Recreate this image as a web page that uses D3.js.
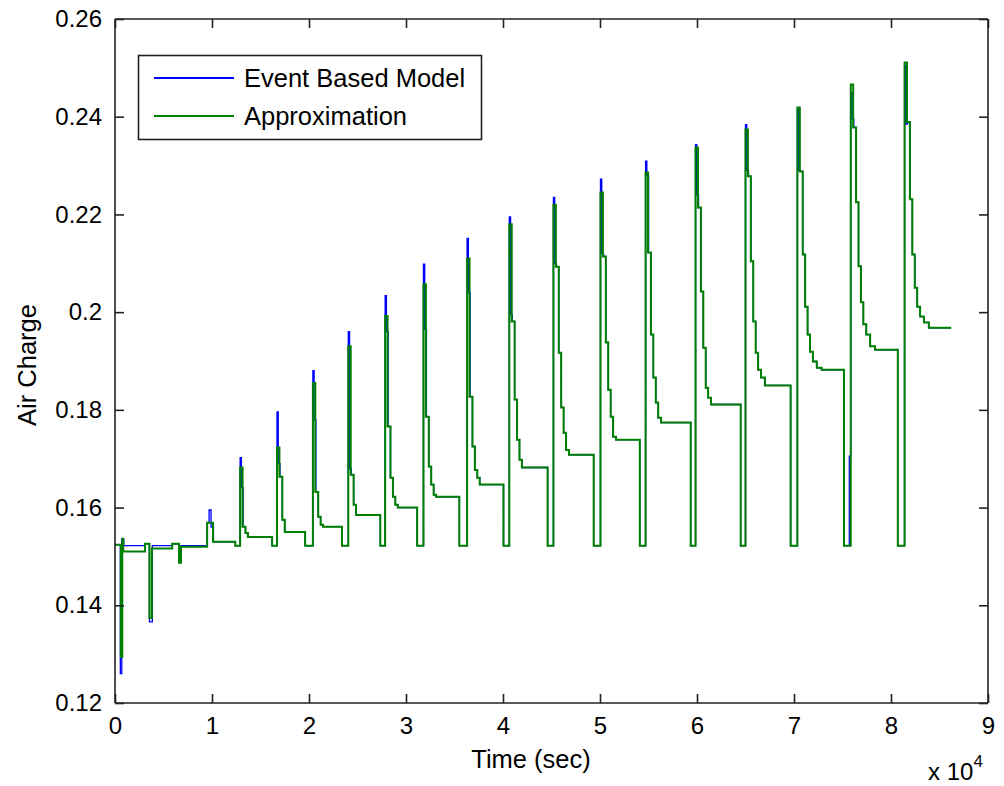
<!DOCTYPE html>
<html>
<head>
<meta charset="utf-8">
<script src="https://cdn.jsdelivr.net/npm/d3@7"></script>
<style>
  html, body { margin: 0; padding: 0; background: #fff; }
  svg { display: block; }
  text { font-family: "Liberation Sans", Arial, sans-serif; fill: #000; }
</style>
</head>
<body>
<svg id="chart" width="1004" height="786"></svg>
<script>
// ---------------- DATA ----------------
const xTickValues = [0, 10000, 20000, 30000, 40000, 50000, 60000, 70000, 80000, 90000];
const xTickLabels = ["0", "1", "2", "3", "4", "5", "6", "7", "8", "9"];
const yTickValues = [0.12, 0.14, 0.16, 0.18, 0.20, 0.22, 0.24, 0.26];
const yTickLabels = ["0.12", "0.14", "0.16", "0.18", "0.2", "0.22", "0.24", "0.26"];
const seriesNames = ["Event Based Model", "Approximation"];

const lowLevel = 0.1522;
const endTime = 86200;

// initial irregular segment (time in s, air charge)
const greenEarlyT = [0, 600, 750, 850, 3100, 3550, 3800, 5900, 6600, 6800, 9500, 10100, 12400];
const greenEarlyV = [0.1524, 0.1294, 0.1536, 0.1510, 0.1526, 0.1374, 0.1516, 0.1526, 0.1487, 0.1520, 0.1569, 0.1530, 0.1522];
const blueEarlyT = [0, 550, 700, 900, 3100, 3550, 3850, 5900, 6600, 6800, 9500, 9700, 9900, 10150, 12400];
const blueEarlyV = [0.1524, 0.1260, 0.1536, 0.1522, 0.1526, 0.1366, 0.1522, 0.1526, 0.1490, 0.1522, 0.1569, 0.1595, 0.1560, 0.1530, 0.1522];

// repeated cycles: rise time, time of return to low level
const riseTimes = [12900, 16700, 20400, 24050, 27850, 31800, 36300, 40650, 45200, 50050, 54700, 59850, 65000, 70350, 75850, 81400];
const dropTimes = [16200, 19600, 23400, 27350, 31150, 35500, 40050, 44600, 49350, 54100, 59350, 64500, 69650, 75150, 80700, null];
// time after the rise at which each decay level starts
const stepOffsets = [0, 250, 550, 800, 1050, 1300, 1600, 2000, 2500];
// Approximation decay levels per cycle (peak first, plateau last)
const greenLevels = [
  [0.1682, 0.1561, 0.1548, 0.1540],
  [0.1723, 0.1663, 0.1575, 0.1550],
  [0.1855, 0.1632, 0.1581, 0.1565, 0.1561],
  [0.1930, 0.1667, 0.1606, 0.1585],
  [0.1992, 0.1766, 0.1661, 0.1622, 0.1606, 0.1600],
  [0.2057, 0.1786, 0.1684, 0.1647, 0.1626, 0.1622],
  [0.2110, 0.1827, 0.1725, 0.1677, 0.1661, 0.1647],
  [0.2180, 0.1981, 0.1821, 0.1739, 0.1698, 0.1682],
  [0.2220, 0.2093, 0.1917, 0.1805, 0.1753, 0.1718, 0.1708],
  [0.2245, 0.2114, 0.1938, 0.1841, 0.1786, 0.1745, 0.1739],
  [0.2286, 0.2122, 0.1954, 0.1866, 0.1815, 0.1784, 0.1774],
  [0.2337, 0.2214, 0.2042, 0.1927, 0.1845, 0.1825, 0.1811],
  [0.2374, 0.2278, 0.2104, 0.1981, 0.1917, 0.1882, 0.1866, 0.1850],
  [0.2419, 0.2288, 0.2118, 0.2011, 0.1954, 0.1919, 0.1899, 0.1886, 0.1882],
  [0.2466, 0.2378, 0.2225, 0.2094, 0.2020, 0.1975, 0.1954, 0.1930, 0.1923],
  [0.2511, 0.2389, 0.2231, 0.2118, 0.2050, 0.2011, 0.1991, 0.1979, 0.1968]
];
// Event Based Model differences per cycle
const bluePeaks = [0.1702, 0.1796, 0.1880, 0.1960, 0.2034, 0.2098, 0.2151, 0.2195, 0.2235, 0.2272, 0.2309, 0.2343, 0.2384, 0.2415, 0.2450, 0.2505];
const blueMid   = [0.1641, 0.1690, 0.1780, 0.1680, 0.1960, 0.1965, 0.2040, 0.1995, 0.2100, 0.2120, 0.2280, 0.2240, 0.2290, 0.2290, 0.2395, 0.2385];
const bluePre   = [null, null, null, null, null, null, null, null, null, null, null, null, null, null, 0.1705, null];

// ---------------- BUILD SERIES ----------------
function buildGreen() {
  const pts = greenEarlyT.map((t, i) => [t, greenEarlyV[i]]);
  riseTimes.forEach((r, i) => {
    const lv = greenLevels[i];
    lv.forEach((v, k) => pts.push([r + stepOffsets[k], v]));
    if (dropTimes[i] !== null) pts.push([dropTimes[i], lowLevel]);
    else pts.push([endTime, lv[lv.length - 1]]);
  });
  return pts;
}
function buildBlue() {
  const pts = blueEarlyT.map((t, i) => [t, blueEarlyV[i]]);
  riseTimes.forEach((r, i) => {
    const lv = greenLevels[i];
    if (bluePre[i] !== null) pts.push([r - 150, bluePre[i]]);
    pts.push([r, bluePeaks[i]]);
    pts.push([r + 130, blueMid[i]]);
    for (let k = 1; k < lv.length; k++) pts.push([r + stepOffsets[k] + (k === 1 ? 60 : 0), lv[k]]);
    if (dropTimes[i] !== null) pts.push([dropTimes[i], lowLevel]);
    else pts.push([endTime, lv[lv.length - 1]]);
  });
  return pts;
}
const greenData = buildGreen();
const blueData = buildBlue();

// ---------------- DRAW ----------------
const svg = d3.select("#chart");
const L = 115, R = 988, T = 19, B = 703;
const x = d3.scaleLinear().domain([0, 90000]).range([L, R]);
const y = d3.scaleLinear().domain([0.12, 0.26]).range([B, T]);

svg.append("rect").attr("width", 1004).attr("height", 786).attr("fill", "#fff");

svg.append("defs").append("clipPath").attr("id", "clip")
  .append("rect").attr("x", L).attr("y", T).attr("width", R - L).attr("height", B - T);

const line = d3.line().x(d => x(d[0])).y(d => y(d[1])).curve(d3.curveStepAfter);
const plot = svg.append("g").attr("clip-path", "url(#clip)");
plot.append("path").datum(blueData).attr("d", line)
  .attr("fill", "none").attr("stroke", "#0000ff").attr("stroke-width", 1.3);
plot.append("path").datum(greenData).attr("d", line)
  .attr("fill", "none").attr("stroke", "#008000").attr("stroke-width", 2);

// axes (MATLAB style: inward ticks, box)
const tickLen = 9;
const fs = 24;
const fsLabel = 25.5;
const xAxisB = d3.axisBottom(x).tickValues(xTickValues).tickSizeInner(-tickLen).tickSizeOuter(0)
  .tickPadding(14).tickFormat((d, i) => xTickLabels[i]);
const gxb = svg.append("g").attr("transform", `translate(0,${B})`).call(xAxisB);
const xAxisT = d3.axisTop(x).tickValues(xTickValues).tickSizeInner(-tickLen).tickSizeOuter(0).tickFormat("");
const gxt = svg.append("g").attr("transform", `translate(0,${T})`).call(xAxisT);
const yAxisL = d3.axisLeft(y).tickValues(yTickValues).tickSizeInner(-tickLen).tickSizeOuter(0)
  .tickPadding(13).tickFormat((d, i) => yTickLabels[i]);
const gyl = svg.append("g").attr("transform", `translate(${L},0)`).call(yAxisL);
const yAxisR = d3.axisRight(y).tickValues(yTickValues).tickSizeInner(-tickLen).tickSizeOuter(0).tickFormat("");
const gyr = svg.append("g").attr("transform", `translate(${R},0)`).call(yAxisR);

[gxb, gxt, gyl, gyr].forEach(g => {
  g.select(".domain").attr("stroke", "#222").attr("stroke-width", 1.6);
  g.selectAll(".tick line").attr("stroke", "#222").attr("stroke-width", 1.6);
  g.selectAll(".tick text").attr("font-size", fs).attr("font-family", "Liberation Sans, Arial, sans-serif").attr("fill", "#000");
});
gxb.select(".domain").attr("d", `M${L},0H${R}`);
gxt.select(".domain").attr("d", `M${L},0H${R}`);
gyl.select(".domain").attr("d", `M0,${T}V${B}`);
gyr.select(".domain").attr("d", `M0,${T}V${B}`);

// axis labels
svg.append("text").attr("x", 531).attr("y", 768).attr("text-anchor", "middle")
  .attr("font-size", fsLabel).text("Time (sec)");
svg.append("text").attr("transform", `translate(36,${(T + B) / 2 + 4}) rotate(-90)`)
  .attr("text-anchor", "middle").attr("font-size", fsLabel).text("Air Charge");
const expo = svg.append("text").attr("x", 928).attr("y", 780).attr("font-size", fs);
expo.append("tspan").text("x 10");
expo.append("tspan").attr("font-size", 17).attr("dy", -13).text("4");

// legend
const lg = svg.append("g");
lg.append("rect").attr("x", 138.5).attr("y", 55.5).attr("width", 343).attr("height", 84)
  .attr("fill", "#fff").attr("stroke", "#222").attr("stroke-width", 1.6);
const legColors = ["#0000ff", "#008000"];
const legY = [78, 116];
seriesNames.forEach((n, i) => {
  lg.append("line").attr("x1", 154).attr("x2", 234).attr("y1", legY[i]).attr("y2", legY[i])
    .attr("stroke", legColors[i]).attr("stroke-width", 2);
  lg.append("text").attr("x", 244).attr("y", legY[i]).attr("dy", "0.35em")
    .attr("font-size", fsLabel).text(n);
});
</script>
</body>
</html>
